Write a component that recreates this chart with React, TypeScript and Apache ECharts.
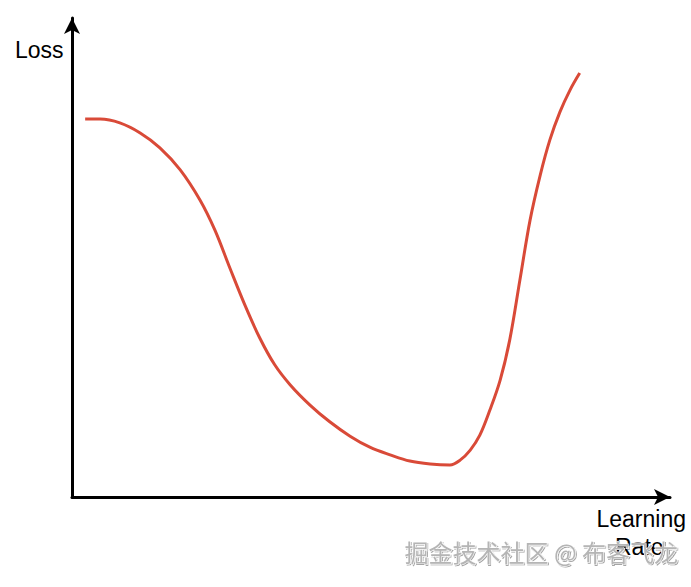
import React, { useEffect, useRef } from "react";
import * as echarts from "echarts";

const learningRate = [2.2, 4.7, 8.0, 11.4, 14.7, 18.1, 21.4, 23.9, 26.4, 28.9, 31.4, 33.9, 36.5, 39.8, 43.1, 46.5, 49.8, 53.2, 56.5, 59.9, 63.2, 64.9, 66.6, 68.2, 69.9, 71.6, 73.2, 74.9, 76.6, 78.3, 79.9, 81.6, 83.3, 84.9];
const loss = [78.9, 78.9, 78.1, 76.0, 72.9, 68.3, 62.0, 55.7, 47.8, 40.1, 33.2, 27.6, 23.4, 19.2, 15.7, 12.7, 10.4, 8.8, 7.5, 6.9, 6.7, 7.7, 9.8, 12.9, 18.2, 24.4, 32.8, 45.3, 57.8, 67.2, 74.5, 80.4, 85.0, 88.5];
const yLabel = "Loss";
const xLabelLines = ["Learning", "Rate"];
const watermark = "掘金技术社区 @ 布客飞龙";

export default function App() {
  const ref = useRef<HTMLDivElement>(null);
  useEffect(() => {
    document.body.style.margin = "0";
    const chart = echarts.init(ref.current!, null, { renderer: "svg" });
    const data = learningRate.map((x, i) => [x, loss[i]]);
    const axisCommon = {
      type: "value" as const,
      min: 0,
      max: 100,
      splitLine: { show: false },
      axisTick: { show: false },
      axisLabel: { show: false },
      axisLine: {
        show: true,
        symbol: ["none", "arrow"],
        symbolSize: [12, 16],
        lineStyle: { color: "#000", width: 3 },
      },
    };
    chart.setOption({
      animation: false,
      backgroundColor: "#fff",
      grid: { left: 72, right: 21, top: 18, bottom: 90 },
      xAxis: { ...axisCommon },
      yAxis: { ...axisCommon },
      series: [
        {
          type: "line",
          data,
          smooth: 0.35,
          showSymbol: false,
          lineStyle: { color: "#d94a38", width: 3 },
        },
      ],
      graphic: [
        {
          type: "text",
          left: 15,
          top: 38,
          style: { text: yLabel, font: "23px 'Liberation Sans', Arial, sans-serif", fill: "#000" },
        },
        {
          type: "text",
          right: 5,
          top: 507,
          style: { text: xLabelLines[0], font: "23px 'Liberation Sans', Arial, sans-serif", fill: "#000" },
        },
        {
          type: "text",
          left: 615,
          top: 535,
          style: { text: xLabelLines[1], font: "23px 'Liberation Sans', Arial, sans-serif", fill: "#000" },
        },
        {
          type: "text",
          left: 404,
          top: 539,
          style: {
            text: watermark,
            font: "24px 'Noto Sans CJK SC', sans-serif",
            fill: "#b5b5b5",
            textShadowColor: "rgba(0,0,0,0.35)",
            textShadowBlur: 1,
            textShadowOffsetX: 1,
            textShadowOffsetY: 1,
            stroke: "#fff",
            lineWidth: 1,
          },
        },
      ],
    });
    return () => chart.dispose();
  }, []);
  return <div ref={ref} style={{ width: 691, height: 587 }} />;
}
